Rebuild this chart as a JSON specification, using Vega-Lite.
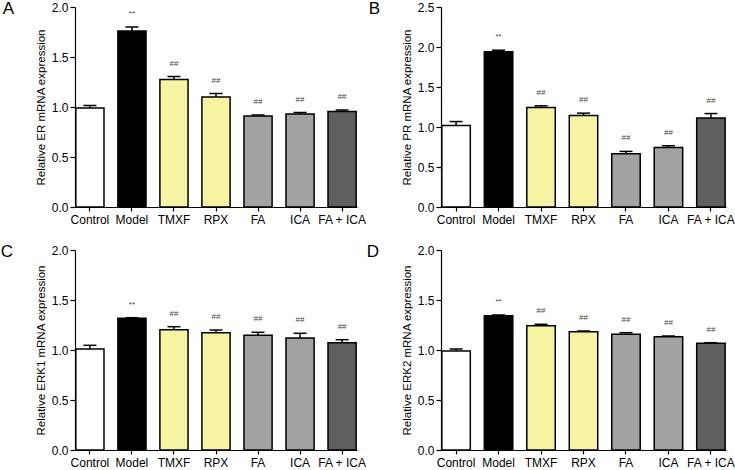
{
  "$schema": "https://vega.github.io/schema/vega-lite/v6.json",
  "padding": {"left": 0, "top": 0, "right": 0, "bottom": 0},
  "background": "white",
  "config": {
    "font": "Liberation Sans",
    "view": {"stroke": null},
    "axis": {"domainColor": "black", "tickColor": "black", "labelColor": "black", "titleColor": "black", "grid": false, "labelFontSize": 12, "titleFontSize": 11.5, "titleFontWeight": "normal", "tickSize": 5, "domainWidth": 1.2, "tickWidth": 1.2, "labelOverlap": false, "titlePadding": 5},
    "title": {"fontSize": 17, "fontWeight": "normal", "color": "black"}
  },
  "datasets": {
    "expr": [
      {"panel": "A", "group": "Control", "value": 0.99, "upper": 1.015, "label": ""},
      {"panel": "A", "group": "Model", "value": 1.76, "upper": 1.80, "label": "**"},
      {"panel": "A", "group": "TMXF", "value": 1.275, "upper": 1.305, "label": "##"},
      {"panel": "A", "group": "RPX", "value": 1.10, "upper": 1.135, "label": "##"},
      {"panel": "A", "group": "FA", "value": 0.91, "upper": 0.92, "label": "##"},
      {"panel": "A", "group": "ICA", "value": 0.93, "upper": 0.945, "label": "##"},
      {"panel": "A", "group": "FA + ICA", "value": 0.955, "upper": 0.97, "label": "##"},
      {"panel": "B", "group": "Control", "value": 1.02, "upper": 1.068, "label": ""},
      {"panel": "B", "group": "Model", "value": 1.94, "upper": 1.96, "label": "**"},
      {"panel": "B", "group": "TMXF", "value": 1.244, "upper": 1.265, "label": "##"},
      {"panel": "B", "group": "RPX", "value": 1.143, "upper": 1.173, "label": "##"},
      {"panel": "B", "group": "FA", "value": 0.666, "upper": 0.695, "label": "##"},
      {"panel": "B", "group": "ICA", "value": 0.745, "upper": 0.766, "label": "##"},
      {"panel": "B", "group": "FA + ICA", "value": 1.114, "upper": 1.168, "label": "##"},
      {"panel": "C", "group": "Control", "value": 1.01, "upper": 1.047, "label": ""},
      {"panel": "C", "group": "Model", "value": 1.317, "upper": 1.323, "label": "**"},
      {"panel": "C", "group": "TMXF", "value": 1.203, "upper": 1.233, "label": "##"},
      {"panel": "C", "group": "RPX", "value": 1.173, "upper": 1.20, "label": "##"},
      {"panel": "C", "group": "FA", "value": 1.147, "upper": 1.177, "label": "##"},
      {"panel": "C", "group": "ICA", "value": 1.12, "upper": 1.167, "label": "##"},
      {"panel": "C", "group": "FA + ICA", "value": 1.073, "upper": 1.103, "label": "##"},
      {"panel": "D", "group": "Control", "value": 0.99, "upper": 1.01, "label": ""},
      {"panel": "D", "group": "Model", "value": 1.343, "upper": 1.35, "label": "**"},
      {"panel": "D", "group": "TMXF", "value": 1.243, "upper": 1.257, "label": "##"},
      {"panel": "D", "group": "RPX", "value": 1.183, "upper": 1.19, "label": "##"},
      {"panel": "D", "group": "FA", "value": 1.157, "upper": 1.173, "label": "##"},
      {"panel": "D", "group": "ICA", "value": 1.133, "upper": 1.14, "label": "##"},
      {"panel": "D", "group": "FA + ICA", "value": 1.067, "upper": 1.073, "label": "##"}
    ]
  },
  "data": {"name": "expr"},
  "columns": 2,
  "spacing": {"row": 18, "column": 0},
  "concat": [
    {
      "width": 282, "height": 200,
      "title": {"text": "A", "orient": "left", "anchor": "end", "angle": 0, "baseline": "top", "align": "right", "offset": 10},
      "transform": [{"filter": "datum.panel == 'A'"}],
      "encoding": {"x": {"field": "group", "type": "nominal", "sort": ["Control", "Model", "TMXF", "RPX", "FA", "ICA", "FA + ICA"], "scale": {"paddingInner": 0.33, "paddingOuter": 0.02}, "axis": {"title": null, "labelAngle": 0, "tickSize": 4, "labelPadding": 3}}},
      "layer": [
        {"mark": {"type": "bar", "stroke": "black", "strokeWidth": 1.5},
         "encoding": {"y": {"field": "value", "type": "quantitative", "scale": {"domain": [0, 2], "nice": false}, "axis": {"values": [0, 0.5, 1, 1.5, 2], "format": ".1f", "title": "Relative ER mRNA expression"}},
                      "fill": {"field": "group", "type": "nominal", "scale": {"domain": ["Control", "Model", "TMXF", "RPX", "FA", "ICA", "FA + ICA"], "range": ["#ffffff", "#000000", "#f6f3a2", "#f6f3a2", "#a2a2a2", "#a2a2a2", "#5f5f5f"]}, "legend": null}}},
        {"mark": {"type": "rule", "strokeWidth": 1.5, "color": "black"}, "encoding": {"y": {"field": "value", "type": "quantitative", "axis": {"values": [0, 0.5, 1, 1.5, 2], "format": ".1f", "title": "Relative ER mRNA expression"}}, "y2": {"field": "upper"}}},
        {"mark": {"type": "tick", "orient": "horizontal", "size": 13, "thickness": 1.5, "color": "black", "opacity": 1}, "encoding": {"y": {"field": "upper", "type": "quantitative", "axis": {"values": [0, 0.5, 1, 1.5, 2], "format": ".1f", "title": "Relative ER mRNA expression"}}}},
        {"mark": {"type": "text", "dy": -13, "fontSize": 8, "color": "#444"}, "encoding": {"y": {"field": "upper", "type": "quantitative", "axis": {"values": [0, 0.5, 1, 1.5, 2], "format": ".1f", "title": "Relative ER mRNA expression"}}, "text": {"field": "label"}}}
      ]
    },
    {
      "width": 285, "height": 200,
      "title": {"text": "B", "orient": "left", "anchor": "end", "angle": 0, "baseline": "top", "align": "right", "offset": 10},
      "transform": [{"filter": "datum.panel == 'B'"}],
      "encoding": {"x": {"field": "group", "type": "nominal", "sort": ["Control", "Model", "TMXF", "RPX", "FA", "ICA", "FA + ICA"], "scale": {"paddingInner": 0.33, "paddingOuter": 0.02}, "axis": {"title": null, "labelAngle": 0, "tickSize": 4, "labelPadding": 3}}},
      "layer": [
        {"mark": {"type": "bar", "stroke": "black", "strokeWidth": 1.5},
         "encoding": {"y": {"field": "value", "type": "quantitative", "scale": {"domain": [0, 2.5], "nice": false}, "axis": {"values": [0, 0.5, 1, 1.5, 2, 2.5], "format": ".1f", "title": "Relative PR mRNA expression"}},
                      "fill": {"field": "group", "type": "nominal", "scale": {"domain": ["Control", "Model", "TMXF", "RPX", "FA", "ICA", "FA + ICA"], "range": ["#ffffff", "#000000", "#f6f3a2", "#f6f3a2", "#a2a2a2", "#a2a2a2", "#5f5f5f"]}, "legend": null}}},
        {"mark": {"type": "rule", "strokeWidth": 1.5, "color": "black"}, "encoding": {"y": {"field": "value", "type": "quantitative", "axis": {"values": [0, 0.5, 1, 1.5, 2, 2.5], "format": ".1f", "title": "Relative PR mRNA expression"}}, "y2": {"field": "upper"}}},
        {"mark": {"type": "tick", "orient": "horizontal", "size": 13, "thickness": 1.5, "color": "black", "opacity": 1}, "encoding": {"y": {"field": "upper", "type": "quantitative", "axis": {"values": [0, 0.5, 1, 1.5, 2, 2.5], "format": ".1f", "title": "Relative PR mRNA expression"}}}},
        {"mark": {"type": "text", "dy": -13, "fontSize": 8, "color": "#444"}, "encoding": {"y": {"field": "upper", "type": "quantitative", "axis": {"values": [0, 0.5, 1, 1.5, 2, 2.5], "format": ".1f", "title": "Relative PR mRNA expression"}}, "text": {"field": "label"}}}
      ]
    },
    {
      "width": 282, "height": 200,
      "title": {"text": "C", "orient": "left", "anchor": "end", "angle": 0, "baseline": "top", "align": "right", "offset": 10},
      "transform": [{"filter": "datum.panel == 'C'"}],
      "encoding": {"x": {"field": "group", "type": "nominal", "sort": ["Control", "Model", "TMXF", "RPX", "FA", "ICA", "FA + ICA"], "scale": {"paddingInner": 0.33, "paddingOuter": 0.02}, "axis": {"title": null, "labelAngle": 0, "tickSize": 4, "labelPadding": 3}}},
      "layer": [
        {"mark": {"type": "bar", "stroke": "black", "strokeWidth": 1.5},
         "encoding": {"y": {"field": "value", "type": "quantitative", "scale": {"domain": [0, 2], "nice": false}, "axis": {"values": [0, 0.5, 1, 1.5, 2], "format": ".1f", "title": "Relative ERK1 mRNA expression"}},
                      "fill": {"field": "group", "type": "nominal", "scale": {"domain": ["Control", "Model", "TMXF", "RPX", "FA", "ICA", "FA + ICA"], "range": ["#ffffff", "#000000", "#f6f3a2", "#f6f3a2", "#a2a2a2", "#a2a2a2", "#5f5f5f"]}, "legend": null}}},
        {"mark": {"type": "rule", "strokeWidth": 1.5, "color": "black"}, "encoding": {"y": {"field": "value", "type": "quantitative", "axis": {"values": [0, 0.5, 1, 1.5, 2], "format": ".1f", "title": "Relative ERK1 mRNA expression"}}, "y2": {"field": "upper"}}},
        {"mark": {"type": "tick", "orient": "horizontal", "size": 13, "thickness": 1.5, "color": "black", "opacity": 1}, "encoding": {"y": {"field": "upper", "type": "quantitative", "axis": {"values": [0, 0.5, 1, 1.5, 2], "format": ".1f", "title": "Relative ERK1 mRNA expression"}}}},
        {"mark": {"type": "text", "dy": -13, "fontSize": 8, "color": "#444"}, "encoding": {"y": {"field": "upper", "type": "quantitative", "axis": {"values": [0, 0.5, 1, 1.5, 2], "format": ".1f", "title": "Relative ERK1 mRNA expression"}}, "text": {"field": "label"}}}
      ]
    },
    {
      "width": 285, "height": 200,
      "title": {"text": "D", "orient": "left", "anchor": "end", "angle": 0, "baseline": "top", "align": "right", "offset": 10},
      "transform": [{"filter": "datum.panel == 'D'"}],
      "encoding": {"x": {"field": "group", "type": "nominal", "sort": ["Control", "Model", "TMXF", "RPX", "FA", "ICA", "FA + ICA"], "scale": {"paddingInner": 0.33, "paddingOuter": 0.02}, "axis": {"title": null, "labelAngle": 0, "tickSize": 4, "labelPadding": 3}}},
      "layer": [
        {"mark": {"type": "bar", "stroke": "black", "strokeWidth": 1.5},
         "encoding": {"y": {"field": "value", "type": "quantitative", "scale": {"domain": [0, 2], "nice": false}, "axis": {"values": [0, 0.5, 1, 1.5, 2], "format": ".1f", "title": "Relative ERK2 mRNA expression"}},
                      "fill": {"field": "group", "type": "nominal", "scale": {"domain": ["Control", "Model", "TMXF", "RPX", "FA", "ICA", "FA + ICA"], "range": ["#ffffff", "#000000", "#f6f3a2", "#f6f3a2", "#a2a2a2", "#a2a2a2", "#5f5f5f"]}, "legend": null}}},
        {"mark": {"type": "rule", "strokeWidth": 1.5, "color": "black"}, "encoding": {"y": {"field": "value", "type": "quantitative", "axis": {"values": [0, 0.5, 1, 1.5, 2], "format": ".1f", "title": "Relative ERK2 mRNA expression"}}, "y2": {"field": "upper"}}},
        {"mark": {"type": "tick", "orient": "horizontal", "size": 13, "thickness": 1.5, "color": "black", "opacity": 1}, "encoding": {"y": {"field": "upper", "type": "quantitative", "axis": {"values": [0, 0.5, 1, 1.5, 2], "format": ".1f", "title": "Relative ERK2 mRNA expression"}}}},
        {"mark": {"type": "text", "dy": -13, "fontSize": 8, "color": "#444"}, "encoding": {"y": {"field": "upper", "type": "quantitative", "axis": {"values": [0, 0.5, 1, 1.5, 2], "format": ".1f", "title": "Relative ERK2 mRNA expression"}}, "text": {"field": "label"}}}
      ]
    }
  ]
}
